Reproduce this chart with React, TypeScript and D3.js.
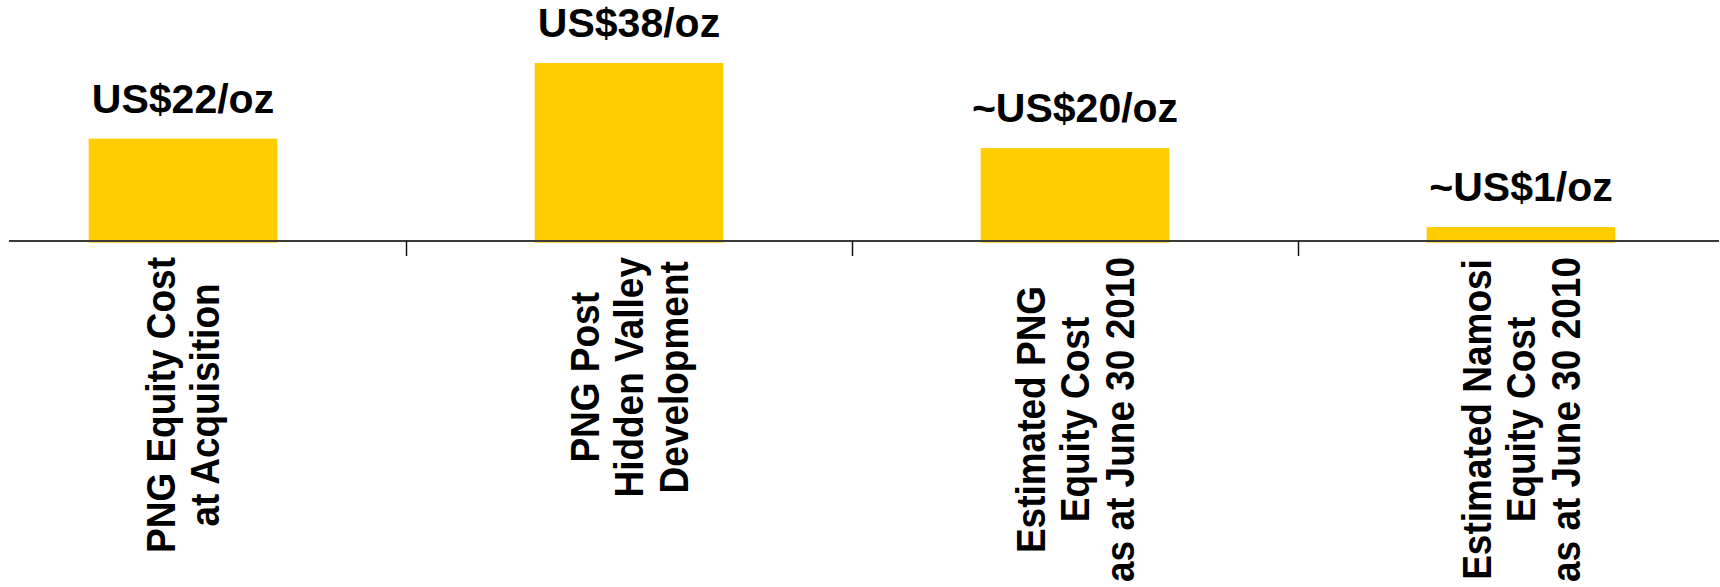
import React, { useEffect, useRef } from "react";
import * as d3 from "d3";

const categories = ["PNG Acquisition", "PNG Post HV", "Est PNG 2010", "Est Namosi 2010"];
const categoryLines = [
  ["PNG Equity Cost", "at Acquisition"],
  ["PNG Post", "Hidden Valley", "Development"],
  ["Estimated PNG", "Equity Cost", "as at June 30 2010"],
  ["Estimated Namosi", "Equity Cost", "as at June 30 2010"],
];
const values = [22, 38, 20, 3.3];
const valueLabels = ["US$22/oz", "US$38/oz", "~US$20/oz", "~US$1/oz"];

const W = 1720;
const H = 587;
const FONT = "'Liberation Sans', Arial, Helvetica, sans-serif";
const BAR_COLOR = "#FFCC00";

export default function App() {
  const ref = useRef<SVGSVGElement | null>(null);

  useEffect(() => {
    const svg = d3.select(ref.current);
    svg.selectAll("*").remove();

    const x = d3.scaleBand<string>().domain(categories).range([-40, 1744]).paddingInner(0).paddingOuter(0);
    const step = x.step();
    const barW = step * 0.423;
    const y = d3.scaleLinear().domain([0, 38]).range([242.7, 63]);
    const axisY = 241;

    // bars
    svg
      .append("g")
      .selectAll("rect")
      .data(values)
      .join("rect")
      .attr("x", (_, i) => (x(categories[i]) as number) + step / 2 - barW / 2)
      .attr("width", barW)
      .attr("y", (d) => y(d))
      .attr("height", (d) => y(0) - y(d))
      .attr("fill", BAR_COLOR);

    // axis line
    svg
      .append("line")
      .attr("x1", 9)
      .attr("x2", 1719)
      .attr("y1", axisY)
      .attr("y2", axisY)
      .attr("stroke", "#3a3a3a")
      .attr("stroke-width", 2);

    // ticks between categories
    svg
      .append("g")
      .selectAll("line")
      .data(categories.slice(1))
      .join("line")
      .attr("x1", (d) => Math.round(x(d) as number) + 0.5)
      .attr("x2", (d) => Math.round(x(d) as number) + 0.5)
      .attr("y1", axisY)
      .attr("y2", 256)
      .attr("stroke", "#111")
      .attr("stroke-width", 1.5);

    // value labels
    svg
      .append("g")
      .selectAll("text")
      .data(values)
      .join("text")
      .attr("x", (_, i) => (x(categories[i]) as number) + step / 2)
      .attr("y", (d) => y(d) - 26)
      .attr("text-anchor", "middle")
      .attr("font-family", FONT)
      .attr("font-weight", "bold")
      .attr("font-size", 41)
      .attr("fill", "#000")
      .text((_, i) => valueLabels[i]);

    // category labels (rotated)
    const lineH = 44.5;
    const capHalf = 14;
    const topEnd = 257;
    categories.forEach((c, ci) => {
      const cx = (x(c) as number) + step / 2;
      const lines = categoryLines[ci];
      const g = svg.append("g");
      const texts = lines.map((line, li) => {
        const bx = cx + (li - (lines.length - 1) / 2) * lineH + capHalf;
        return g
          .append("text")
          .attr("font-family", FONT)
          .attr("font-weight", "bold")
          .attr("font-size", 37)
          .attr("fill", "#000")
          .attr("text-anchor", "middle")
          .attr("data-bx", bx)
          .text(line);
      });
      const maxLen = d3.max(texts, (t) => (t.node() as SVGTextElement).getComputedTextLength()) || 0;
      const cy = topEnd + maxLen / 2;
      texts.forEach((t) => {
        const bx = +t.attr("data-bx");
        t.attr("transform", `translate(${bx},${cy}) rotate(-90) scale(1,1.08)`);
      });
    });
  }, []);

  return (
    <svg
      ref={ref}
      width={W}
      height={H}
      style={{ position: "absolute", left: 0, top: 0, display: "block", background: "#fff" }}
    />
  );
}
